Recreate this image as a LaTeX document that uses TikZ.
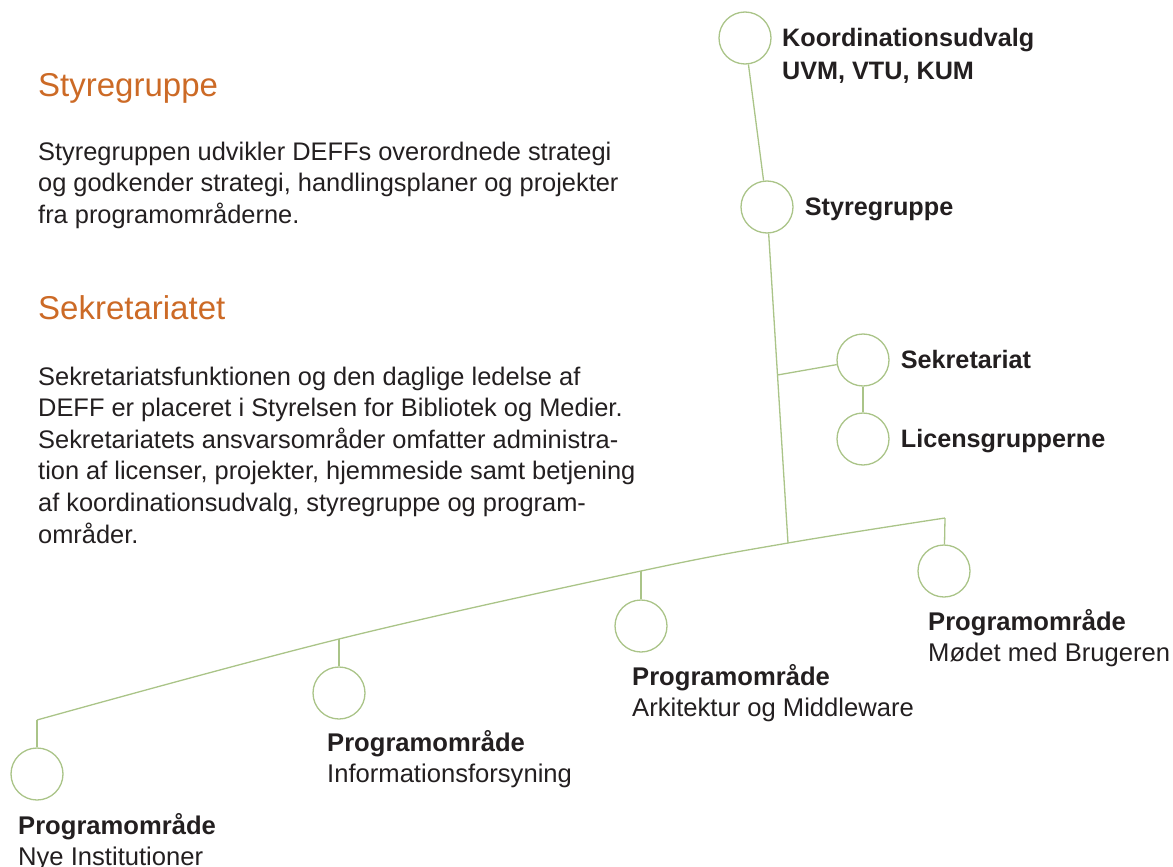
\documentclass[tikz,border=0pt]{standalone}
\usepackage{fontspec}
\setmainfont{Liberation Sans}
\usepackage{tikz}
\usetikzlibrary{calc, positioning}
\definecolor{deffgreen}{RGB}{170,196,136}
\definecolor{defforange}{RGB}{204,106,38}
\definecolor{deffink}{RGB}{35,31,32}

\begin{document}
\begin{tikzpicture}[
				x=1pt, y=-1pt,
				texts/.style = {text=deffink, inner sep=0pt},
				headtexts/.style = {text=defforange, inner sep=0pt, anchor=base west, font=\fontsize{33}{40}\selectfont},
				bodytexts/.style = {texts, align=left, anchor=north west, font=\fontsize{25.4}{31.6}\selectfont},
				labeltexts/.style = {texts, align=left, anchor=north west, font=\fontsize{25.6}{30.5}\selectfont},
				unittexts/.style = {texts, font=\bfseries\fontsize{25.2}{33}\selectfont, text height=18pt, text depth=2pt},
				treeline/.style = {draw=deffgreen, line width=1.3pt},
				treenode/.style = {circle, minimum size=52pt, inner sep=0pt, fill=white, treeline}
				]
				\useasboundingbox (0,0) rectangle (1173,867);
				
				% left column
				\node[headtexts] (styrehead) at (38,96) {Styregruppe};
				\node[bodytexts] (styrebody) at (38,141.5) {Styregruppen udvikler DEFFs overordnede strategi\\
					og godkender strategi, handlingsplaner og projekter\\
					fra programområderne.};
				\node[headtexts] (sekrhead) at (38,319) {Sekretariatet};
				\node[bodytexts] (sekrbody) at (38,366.5) {Sekretariatsfunktionen og den daglige ledelse af\\
					DEFF er placeret i Styrelsen for Bibliotek og Medier.\\
					Sekretariatets ansvarsområder omfatter administra-\\
					tion af licenser, projekter, hjemmeside samt betjening\\
					af koordinationsudvalg, styregruppe og program-\\
					områder.};
				
				% tree
				\node[treenode] (koord) at (745,38) {};
				\node[treenode] (styre) at (767,207) {};
				\node[treenode] (sekr) at (863,360) {};
				\node[treenode] (licens) at (863,439) {};
				\node[treenode] (nye) at (37,774) {};
				\node[treenode] (info) at (339,693) {};
				\node[treenode] (arkit) at (641,626) {};
				\node[treenode] (modet) at (944,571) {};
				
				\coordinate (hub) at (788,543);
				\coordinate (j1) at (37,720);
				\coordinate (j2) at (339,639);
				\coordinate (j3) at (641,571);
				\coordinate (j4) at (945,518);
				\coordinate (sekrjoin) at ($(styre)!0.5!(hub)$);
				
				\draw[treeline] (koord) -- (styre);
				\draw[treeline] (styre) -- (hub);
				\draw[treeline] (sekrjoin) -- (sekr);
				\draw[treeline, line width=1.8pt] (sekr) -- (licens);
				\draw[treeline] plot[smooth, tension=0.6] coordinates {(j1) (j2) (j3) (hub) (j4)};
				\draw[treeline, line width=2.6pt] (j1) -- (nye);
				\draw[treeline] (j2) -- (info);
				\draw[treeline] (j3) -- (arkit);
				\draw[treeline] (j4) -- (modet);
				
				% labels
				\node[texts, align=left, anchor=north west, font=\bfseries\fontsize{25.2}{33}\selectfont] (koordlbl) at (782,28.5) {Koordinationsudvalg\\UVM, VTU, KUM};
				\node[unittexts, right=11pt of styre] (styrelbl) {Styregruppe};
				\node[unittexts, right=11pt of sekr] (sekrlbl) {Sekretariat};
				\node[unittexts, right=11pt of licens] (licenslbl) {Licensgrupperne};
				\node[labeltexts] (nyelbl) at (18,813.5) {\textbf{Programområde}\\Nye Institutioner};
				\node[labeltexts] (infolbl) at (327,730.5) {\textbf{Programområde}\\Informationsforsyning};
				\node[labeltexts] (arkitlbl) at (632,664.5) {\textbf{Programområde}\\Arkitektur og Middleware};
				\node[labeltexts] (modetlbl) at (928,609.5) {\textbf{Programområde}\\Mødet med Brugeren};
\end{tikzpicture}
\end{document}
